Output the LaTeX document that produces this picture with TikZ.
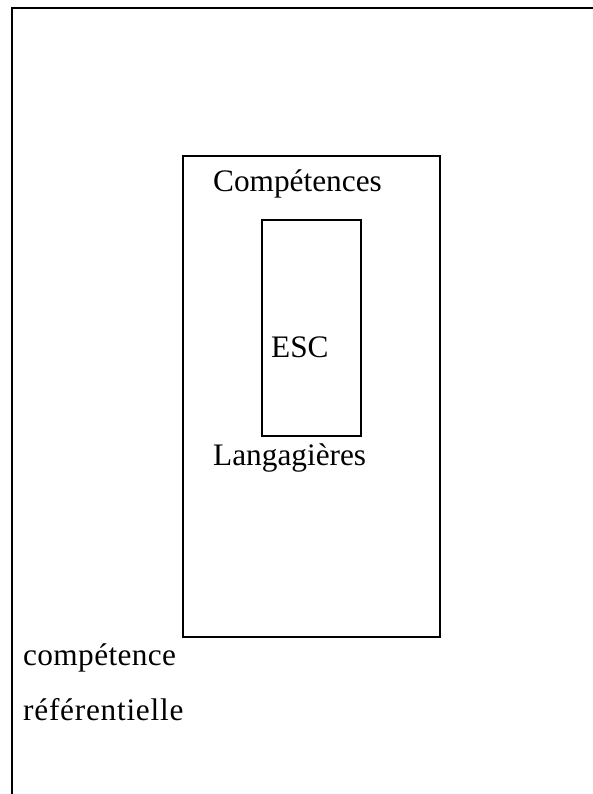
\documentclass[tikz,border=0pt]{standalone}
\usepackage{fontspec}
\setmainfont{Liberation Serif}
\begin{document}
\begin{tikzpicture}[x=1pt,y=-1pt,
  frame/.style={draw=black,line width=2pt},
  lbl/.style={anchor=base west,inner sep=0pt,font=\fontsize{31.3pt}{36pt}\selectfont}]
\useasboundingbox (0,0) rectangle (593,794);
\coordinate (ob) at (12,794);
\coordinate (oc) at (12,8);
\coordinate (oe) at (593,8);
\draw[frame,line cap=rect] (ob) -- (oc) -- (oe);
\node[frame,minimum width=257pt,minimum height=481pt,inner sep=0pt,anchor=north west] (mid) at (182,155) {};
\node[frame,minimum width=99pt,minimum height=216pt,inner sep=0pt,anchor=north west] (inn) at (261,219) {};
\node[lbl] (comp) at (213,192) {Compétences};
\node[lbl] (esc) at (271,357) {ESC};
\node[lbl] (lang) at (213,465) {Langagières};
\node[lbl] (c1) at (23,665) {\addfontfeature{LetterSpace=1.2}compétence};
\node[lbl] (c2) at (23,720) {\addfontfeature{LetterSpace=2.4}référentielle};
\end{tikzpicture}
\end{document}
